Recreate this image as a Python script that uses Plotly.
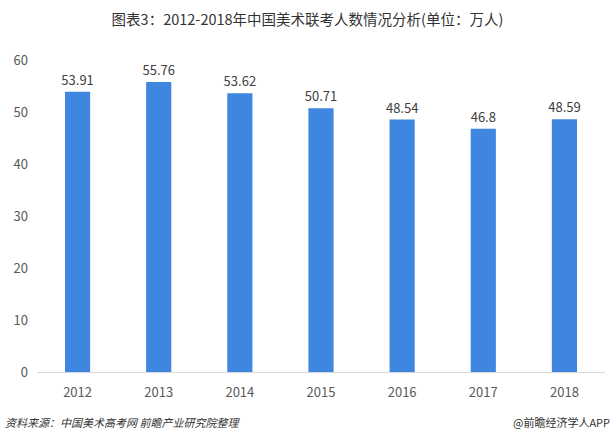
import plotly.graph_objects as go

years = ["2012", "2013", "2014", "2015", "2016", "2017", "2018"]
values = [53.91, 55.76, 53.62, 50.71, 48.54, 46.8, 48.59]
labels = ["53.91", "55.76", "53.62", "50.71", "48.54", "46.8", "48.59"]

font_family = "Noto Sans CJK SC, Noto Sans, sans-serif"

fig = go.Figure(go.Bar(
    x=years, y=values, text=labels, textposition="outside",
    constraintext="none",
    textfont=dict(size=13, color="#404040", family=font_family),
    marker=dict(color="#3F86E0", line=dict(width=0)),
    cliponaxis=False,
))

fig.update_layout(
    width=615, height=445,
    margin=dict(l=37, r=10, t=60, b=73),
    paper_bgcolor="white", plot_bgcolor="white",
    bargap=0.69,
    showlegend=False,
    font=dict(family=font_family, color="#595959", size=13),
    title=dict(text="图表3：2012-2018年中国美术联考人数情况分析(单位：万人)",
               x=0.5, xanchor="center", y=0.955, yanchor="middle",
               font=dict(size=14.5, color="#333333", family=font_family)),
    xaxis=dict(showgrid=False, showline=True, linecolor="#D9D9D9", linewidth=1,
               ticks="", ticklabelstandoff=8,
               tickfont=dict(size=13, color="#595959")),
    yaxis=dict(range=[0, 60], dtick=10, showgrid=False, zeroline=False,
               showline=False, ticks="", ticklabelstandoff=8,
               tickfont=dict(size=13, color="#595959")),
)

fig.add_annotation(text="资料来源：中国美术高考网 前瞻产业研究院整理",
                   xref="paper", yref="paper", x=-0.06, y=-0.16,
                   xanchor="left", yanchor="middle", showarrow=False,
                   font=dict(size=11, color="#333333", family=font_family,
                             style="italic"))
fig.add_annotation(text="@前瞻经济学人APP",
                   xref="paper", yref="paper", x=1.012, y=-0.16,
                   xanchor="right", yanchor="middle", showarrow=False,
                   font=dict(size=11, color="#333333", family=font_family))

fig.write_html("out.html")
